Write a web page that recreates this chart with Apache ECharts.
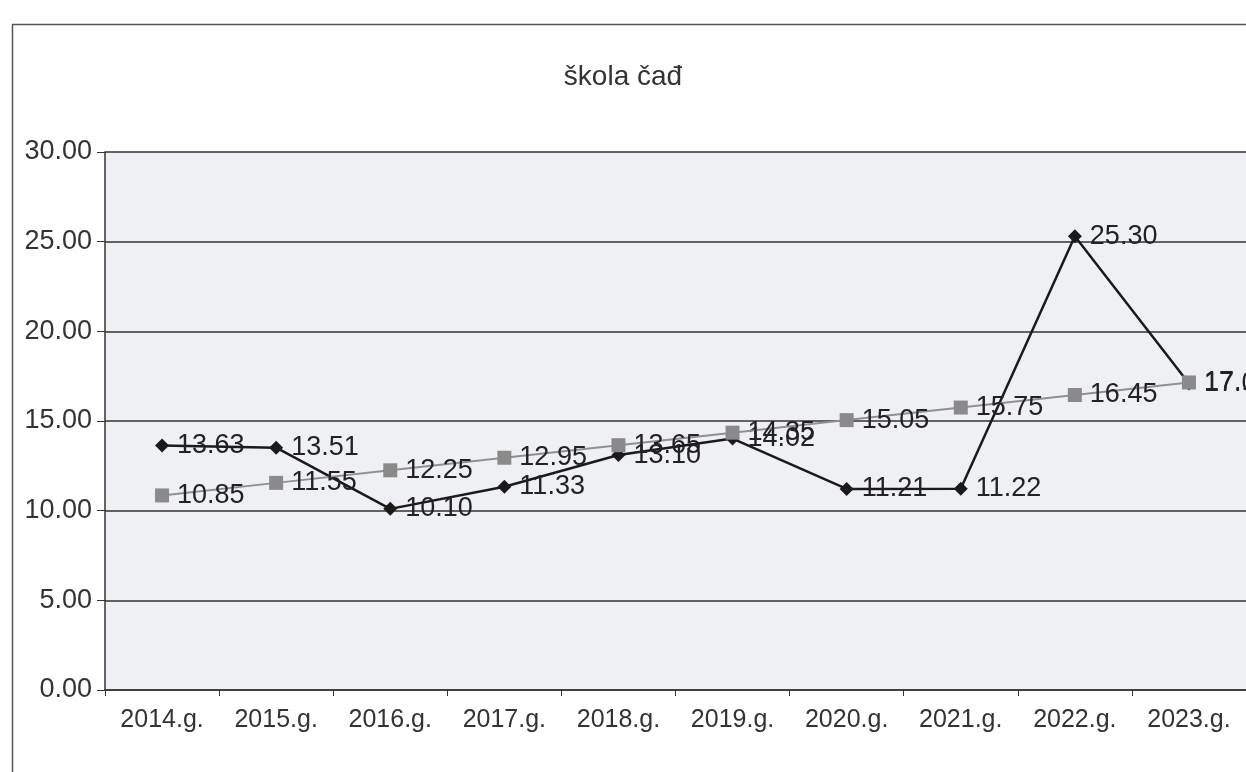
<!DOCTYPE html>
<html>
<head>
<meta charset="utf-8">
<script src="https://cdn.jsdelivr.net/npm/echarts@6/dist/echarts.min.js"></script>
<style>
html, body { margin: 0; padding: 0; background: #fff; }
#chart { width: 1246px; height: 772px; }
</style>
</head>
<body>
<div id="chart"></div>
<script>
// podaci
var years = ['2014.g.', '2015.g.', '2016.g.', '2017.g.', '2018.g.', '2019.g.', '2020.g.', '2021.g.', '2022.g.', '2023.g.'];
var schoolValues = [13.63, 13.51, 10.10, 11.33, 13.10, 14.02, 11.21, 11.22, 25.30, 17.09];
var trendValues = [10.85, 11.55, 12.25, 12.95, 13.65, 14.35, 15.05, 15.75, 16.45, 17.15];
var yTicks = [0, 5, 10, 15, 20, 25, 30];

var chart = echarts.init(document.getElementById('chart'));

var labelStyle = {
    show: true,
    position: 'right',
    distance: 8,
    fontFamily: 'Liberation Sans, Arial, sans-serif',
    fontSize: 27,
    color: '#222',
    formatter: function (p) { return p.value.toFixed(2); }
};

var option = {
    backgroundColor: '#fff',
    animation: false,
    title: {
        text: 'škola čađ',
        left: 'center',
        top: 58,
        textStyle: {
            fontFamily: 'Liberation Sans, Arial, sans-serif',
            fontSize: 28,
            fontWeight: 'normal',
            color: '#333'
        }
    },
    // okvir oko grafikona
    graphic: [{
        type: 'rect',
        left: 10,
        top: 22,
        shape: { width: 1250, height: 760 },
        style: { fill: null, stroke: '#555', lineWidth: 1.5 },
        z: -1
    }],
    grid: {
        left: 105,
        right: -4,
        top: 152,
        bottom: 82,
        show: true,
        backgroundColor: '#eff0f4',
        borderWidth: 0
    },
    xAxis: {
        type: 'category',
        data: years,
        boundaryGap: true,
        axisLine: { lineStyle: { color: '#333', width: 1.5 } },
        axisTick: { show: true, length: 6, lineStyle: { color: '#333' } },
        axisLabel: {
            fontFamily: 'Liberation Sans, Arial, sans-serif',
            fontSize: 25,
            color: '#333',
            margin: 18
        }
    },
    yAxis: {
        type: 'value',
        min: yTicks[0],
        max: yTicks[yTicks.length - 1],
        interval: 5,
        axisLine: { show: true, lineStyle: { color: '#333', width: 1.5 } },
        axisTick: { show: true, length: 8, lineStyle: { color: '#333' } },
        axisLabel: {
            fontFamily: 'Liberation Sans, Arial, sans-serif',
            fontSize: 27,
            color: '#333',
            margin: 13,
            formatter: function (v) { return v.toFixed(2); }
        },
        splitLine: { lineStyle: { color: '#333', width: 1.5 } }
    },
    series: [
        {
            name: 'škola',
            type: 'line',
            data: schoolValues,
            symbol: 'diamond',
            symbolSize: 14,
            lineStyle: { color: '#1a1a1a', width: 2.5 },
            itemStyle: { color: '#1a1a1a' },
            label: labelStyle,
            z: 3
        },
        {
            name: 'trend',
            type: 'line',
            data: trendValues,
            symbol: 'rect',
            symbolSize: 14,
            lineStyle: { color: '#909090', width: 2 },
            itemStyle: { color: '#8a8a8a' },
            label: labelStyle,
            z: 4
        }
    ]
};

chart.setOption(option);
</script>
</body>
</html>
